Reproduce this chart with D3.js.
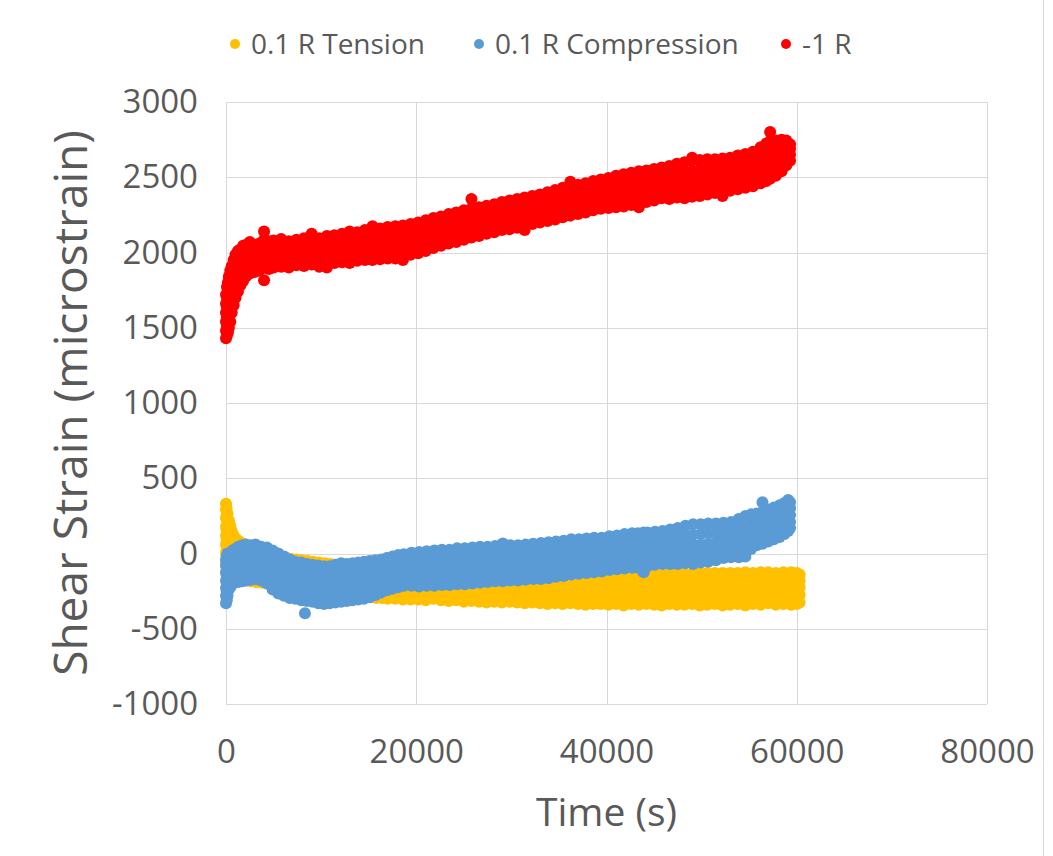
<!DOCTYPE html>
<html>
<head>
<meta charset="utf-8">
<script src="https://cdn.jsdelivr.net/npm/d3@7"></script>
<style>
  body { margin: 0; background: #fff; }
  svg { display: block; }
  text { font-family: "Open Sans", "Noto Sans", sans-serif; fill: #595959; }
</style>
</head>
<body>
<svg id="chart" width="1053" height="856"></svg>
<script>
// Series labels and colours
const seriesNames = ["0.1 R Tension", "0.1 R Compression", "-1 R"];
const seriesColors = ["#FFC000", "#5B9BD5", "#FF0000"];

// Axis ticks
const xTicks = [0, 20000, 40000, 60000, 80000];
const yTicks = [-1000, -500, 0, 500, 1000, 1500, 2000, 2500, 3000];

// Readings: each row is [time (s), shear strain readings at that time (microstrain)...]
const tensionRows = [
  [0, -120, -60, 0, 60, 120, 180, 240, 290, 330],
  [60, -120, -50, 20, 90, 160, 230, 300],
  [150, -120, -55, 10, 75, 140, 200, 265],
  [300, -130, -70, -10, 50, 110, 170, 220],
  [450, -140, -80, -20, 40, 100, 150, 185],
  [600, -150, -90, -30, 30, 90, 150],
  [800, -155, -95, -35, 25, 80, 120],
  [1000, -160, -100, -40, 15, 65, 100],
  [1300, -165, -110, -50, 10, 55, 85],
  [1700, -170, -115, -60, 0, 40, 70],
  [2100, -180, -120, -65, -10, 30, 55],
  [2600, -185, -130, -75, -20, 20, 45],
  [3200, -190, -135, -80, -30, 10, 30],
  [3800, -195, -140, -85, -35, 0, 20],
  [4400, -200, -145, -90, -40, -5, 10],
  [5000, -210, -155, -100, -50, -5],
  [5600, -215, -160, -105, -55, -15],
  [6200, -220, -165, -110, -60, -25],
  [6800, -225, -170, -115, -65, -35],
  [7400, -230, -175, -120, -75, -40],
  [8000, -235, -180, -125, -80, -45],
  [8600, -240, -185, -130, -85, -50],
  [9200, -245, -190, -135, -90, -55],
  [9800, -250, -195, -140, -95, -60],
  [10400, -255, -200, -145, -100, -65],
  [11000, -260, -205, -150, -105, -70],
  [11600, -265, -210, -155, -110, -75],
  [12200, -270, -215, -160, -110, -70],
  [12800, -275, -220, -165, -115, -75],
  [13400, -280, -225, -170, -115, -70],
  [14000, -280, -225, -170, -120, -75],
  [14600, -285, -230, -175, -125, -85],
  [15200, -290, -235, -180, -130, -90],
  [15800, -295, -240, -185, -135, -95],
  [16400, -295, -240, -190, -140, -100],
  [17000, -300, -245, -195, -145, -105],
  [17800, -300, -250, -200, -150, -110],
  [18600, -305, -255, -205, -155, -115],
  [19400, -305, -255, -205, -160, -120],
  [20200, -305, -255, -210, -165, -125],
  [21000, -310, -260, -210, -165, -125],
  [21800, -300, -255, -210, -165, -125],
  [22600, -310, -260, -215, -170, -130],
  [23400, -315, -265, -215, -170, -130],
  [24200, -310, -260, -215, -170, -130],
  [25000, -320, -270, -220, -175, -135],
  [25800, -315, -265, -220, -175, -135],
  [26600, -320, -270, -225, -180, -135],
  [27400, -325, -275, -225, -180, -140],
  [28200, -320, -270, -225, -180, -140],
  [29000, -325, -275, -230, -185, -140],
  [29800, -320, -275, -230, -185, -140],
  [30600, -325, -280, -230, -185, -140],
  [31400, -330, -280, -235, -190, -145],
  [32200, -325, -280, -235, -190, -145],
  [33000, -330, -285, -235, -190, -145],
  [33800, -335, -285, -240, -190, -145],
  [34600, -330, -285, -240, -190, -145],
  [35400, -335, -285, -240, -195, -150],
  [36200, -330, -285, -240, -195, -150],
  [37000, -335, -290, -240, -195, -150],
  [37800, -340, -290, -245, -195, -150],
  [38600, -335, -290, -245, -195, -150],
  [39400, -335, -290, -240, -195, -150],
  [40200, -340, -290, -245, -195, -150],
  [41000, -335, -290, -245, -195, -150],
  [41800, -345, -295, -245, -195, -145],
  [42600, -335, -290, -240, -190, -145],
  [43400, -340, -290, -245, -195, -145],
  [44200, -335, -290, -240, -190, -140],
  [45000, -340, -290, -240, -190, -140],
  [45800, -345, -295, -245, -190, -140],
  [46600, -335, -285, -240, -185, -135],
  [47400, -340, -290, -240, -185, -135],
  [48200, -340, -290, -235, -185, -135],
  [49000, -335, -285, -235, -185, -135],
  [49800, -345, -290, -240, -185, -130],
  [50600, -340, -290, -240, -185, -130],
  [51400, -335, -285, -235, -180, -130],
  [52200, -345, -290, -235, -180, -130],
  [53000, -340, -285, -235, -180, -130],
  [53800, -335, -285, -235, -180, -130],
  [54600, -345, -290, -235, -180, -125],
  [55400, -335, -285, -230, -180, -130],
  [56200, -340, -290, -235, -180, -125],
  [57000, -330, -280, -230, -175, -125],
  [57800, -340, -285, -230, -180, -130],
  [58600, -335, -285, -230, -175, -125],
  [59400, -340, -285, -230, -180, -125],
  [60000, -335, -285, -235, -180, -130],
  [60300, -325, -275, -225, -180, -140]
];

const compressionRows = [
  [0, -330, -280, -230, -180, -130, -80, -40],
  [80, -310, -250, -190, -130, -70, -20],
  [160, -280, -220, -160, -100, -40, 0],
  [300, -240, -180, -120, -60, -10],
  [500, -220, -160, -100, -40, 5],
  [700, -200, -140, -80, -20, 20],
  [950, -190, -130, -70, -10, 30],
  [1300, -190, -130, -70, -10, 45],
  [1700, -185, -125, -65, 0, 55],
  [2100, -180, -120, -60, 0, 60],
  [2600, -175, -115, -55, 5, 55],
  [3100, -170, -110, -50, 10, 60],
  [3700, -180, -120, -60, 0, 45],
  [4300, -200, -135, -70, -10, 40],
  [4900, -240, -170, -100, -35, 20],
  [5500, -265, -195, -130, -65, 0],
  [6100, -280, -210, -145, -80, -20],
  [6700, -295, -225, -160, -100, -40],
  [7300, -300, -235, -170, -110, -55],
  [7900, -310, -245, -180, -120, -60],
  [8300, -397],
  [8500, -315, -250, -185, -125, -70],
  [9100, -320, -255, -190, -130, -75],
  [9700, -330, -265, -200, -140, -80],
  [10300, -335, -270, -205, -145, -85],
  [10900, -330, -265, -200, -140, -85],
  [11500, -325, -260, -195, -135, -75],
  [12100, -320, -255, -190, -130, -65],
  [12700, -315, -250, -185, -125, -70],
  [13300, -310, -245, -180, -120, -65],
  [13900, -305, -240, -175, -115, -60],
  [14500, -300, -235, -170, -110, -55],
  [15100, -290, -225, -165, -105, -50],
  [15700, -275, -215, -155, -100, -45],
  [16300, -260, -205, -150, -95, -40],
  [16900, -245, -190, -135, -80, -30],
  [17500, -235, -180, -125, -70, -20],
  [18100, -225, -170, -115, -60, -10],
  [18700, -215, -160, -105, -50, -5],
  [19500, -215, -160, -100, -45, 5],
  [20300, -220, -160, -100, -40, 10],
  [21100, -215, -155, -95, -35, 15],
  [21900, -215, -155, -95, -35, 20],
  [22700, -210, -150, -90, -30, 25],
  [23500, -210, -150, -90, -30, 25],
  [24300, -205, -145, -85, -25, 35],
  [25100, -205, -145, -85, -25, 35],
  [25900, -200, -140, -80, -20, 40],
  [26700, -195, -135, -75, -15, 45],
  [27500, -190, -130, -70, -10, 45],
  [28300, -185, -125, -65, -5, 50],
  [29100, -185, -125, -65, -5, 50, 66],
  [29900, -180, -120, -60, 0, 55],
  [30700, -180, -120, -60, 0, 55],
  [31500, -175, -115, -55, 5, 60],
  [32300, -170, -110, -50, 10, 65],
  [33100, -170, -110, -50, 10, 70],
  [33900, -165, -105, -45, 15, 75],
  [34700, -155, -95, -35, 25, 80],
  [35500, -150, -90, -30, 30, 85],
  [36300, -140, -80, -20, 35, 95],
  [37100, -135, -75, -15, 40, 95],
  [37900, -130, -70, -10, 45, 100],
  [38700, -125, -65, -5, 50, 105],
  [39500, -120, -60, 0, 55, 105],
  [40300, -110, -50, 5, 60, 115],
  [41100, -105, -45, 10, 65, 120],
  [41900, -100, -40, 15, 75, 130],
  [42700, -95, -35, 20, 80, 135],
  [43300, -95, -35, 20, 80, 135],
  [43900, -125, -85, -30, 25, 85, 140],
  [44300, -85, -25, 30, 90, 140],
  [45100, -75, -20, 35, 95, 145],
  [45900, -70, -15, 40, 95, 150],
  [46700, -70, -10, 45, 100, 160],
  [47500, -70, -10, 50, 110, 170],
  [48300, -65, -5, 55, 120, 185],
  [49100, -70, -5, 60, 125, 195],
  [49900, -60, 0, 60, 130, 195],
  [50700, -55, 5, 65, 135, 200],
  [51500, -45, 15, 75, 140, 200],
  [52300, -30, 25, 85, 150, 205],
  [53100, -25, 30, 90, 150, 210],
  [53900, -25, 35, 95, 160, 230],
  [54600, -20, 40, 100, 175, 250],
  [55200, 30, 80, 130, 195, 260],
  [55800, 55, 100, 150, 210, 265],
  [56400, 65, 110, 160, 220, 275, 340],
  [57000, 80, 125, 175, 230, 290],
  [57600, 95, 140, 190, 245, 305],
  [58200, 110, 155, 205, 260, 320],
  [58700, 130, 175, 225, 275, 335],
  [59100, 150, 195, 240, 290, 355],
  [59300, 170, 210, 255, 300, 340]
];

const reversedRows = [
  [0, 1430, 1480, 1540, 1600, 1660, 1720],
  [100, 1450, 1510, 1570, 1640, 1700, 1770],
  [200, 1470, 1530, 1600, 1670, 1740, 1800],
  [300, 1500, 1570, 1640, 1710, 1780, 1840],
  [450, 1540, 1610, 1680, 1750, 1820, 1880],
  [600, 1600, 1660, 1730, 1800, 1860, 1910],
  [800, 1650, 1710, 1780, 1850, 1910, 1950],
  [1000, 1700, 1760, 1820, 1880, 1940, 1985],
  [1250, 1740, 1800, 1860, 1920, 1970, 2010],
  [1500, 1780, 1830, 1890, 1950, 2000, 2020],
  [1800, 1810, 1860, 1910, 1960, 2010, 2045],
  [2100, 1840, 1890, 1940, 1990, 2030, 2050],
  [2500, 1860, 1900, 1950, 2000, 2040, 2070],
  [3000, 1870, 1910, 1960, 2010, 2050],
  [3500, 1880, 1920, 1970, 2020, 2060],
  [4000, 1815, 1900, 1950, 2000, 2050, 2085, 2140],
  [4500, 1890, 1935, 1985, 2035, 2075],
  [5000, 1900, 1945, 1990, 2040, 2080],
  [5800, 1905, 1950, 2000, 2045, 2090],
  [6600, 1900, 1950, 2000, 2050, 2075],
  [7400, 1915, 1960, 2005, 2050, 2085],
  [8200, 1910, 1955, 2000, 2050, 2095],
  [9000, 1920, 1965, 2010, 2055, 2100, 2125],
  [9800, 1905, 1960, 2015, 2060, 2095],
  [10600, 1900, 1925, 1970, 2020, 2065, 2110],
  [11400, 1930, 1975, 2025, 2070, 2115],
  [12200, 1935, 1985, 2030, 2080, 2125],
  [13000, 1930, 1985, 2035, 2085, 2140],
  [13800, 1945, 1990, 2040, 2090, 2135],
  [14600, 1950, 1995, 2045, 2095, 2150],
  [15400, 1950, 2000, 2050, 2100, 2155, 2175],
  [16200, 1955, 2005, 2055, 2105, 2160],
  [17000, 1960, 2010, 2060, 2110, 2170],
  [17800, 1960, 2015, 2065, 2115, 2175],
  [18600, 1950, 2020, 2070, 2120, 2180],
  [19400, 1985, 2030, 2080, 2130, 2190],
  [20200, 1995, 2040, 2090, 2140, 2200],
  [21000, 2010, 2055, 2105, 2150, 2215],
  [21800, 2030, 2075, 2120, 2170, 2230],
  [22600, 2045, 2090, 2135, 2185, 2240],
  [23400, 2060, 2105, 2150, 2200, 2255],
  [24200, 2070, 2115, 2160, 2210, 2265],
  [25000, 2085, 2130, 2175, 2225, 2280],
  [25800, 2100, 2145, 2190, 2240, 2290, 2355],
  [26600, 2110, 2155, 2200, 2250, 2300],
  [27400, 2125, 2170, 2215, 2260, 2310],
  [28200, 2135, 2180, 2225, 2270, 2320],
  [29000, 2150, 2195, 2240, 2285, 2335],
  [29800, 2155, 2200, 2245, 2295, 2345],
  [30600, 2165, 2210, 2255, 2305, 2355],
  [31400, 2150, 2175, 2220, 2270, 2315, 2365],
  [32200, 2190, 2235, 2280, 2330, 2375],
  [33000, 2200, 2245, 2290, 2340, 2385],
  [33800, 2210, 2255, 2300, 2350, 2400],
  [34600, 2220, 2265, 2315, 2360, 2415],
  [35400, 2235, 2280, 2325, 2375, 2430],
  [36200, 2245, 2290, 2335, 2385, 2445, 2470],
  [37000, 2255, 2300, 2350, 2395, 2450],
  [37800, 2265, 2310, 2360, 2410, 2460],
  [38600, 2280, 2320, 2370, 2420, 2475],
  [39400, 2290, 2330, 2380, 2430, 2485],
  [40200, 2295, 2340, 2390, 2440, 2495],
  [41000, 2300, 2350, 2400, 2450, 2510],
  [41800, 2305, 2360, 2410, 2460, 2520],
  [42600, 2315, 2365, 2415, 2470, 2530],
  [43400, 2300, 2325, 2375, 2425, 2480, 2540],
  [44200, 2335, 2385, 2435, 2490, 2545],
  [45000, 2345, 2395, 2445, 2500, 2555],
  [45800, 2360, 2405, 2455, 2510, 2565],
  [46600, 2355, 2410, 2460, 2515, 2575],
  [47400, 2365, 2415, 2470, 2525, 2590],
  [48200, 2360, 2420, 2475, 2535, 2600],
  [49000, 2370, 2425, 2480, 2540, 2610, 2630],
  [49800, 2375, 2430, 2490, 2550, 2615],
  [50600, 2385, 2440, 2495, 2555, 2620],
  [51400, 2395, 2450, 2505, 2560, 2620],
  [52200, 2375, 2400, 2455, 2510, 2570, 2625],
  [53000, 2410, 2465, 2520, 2575, 2630],
  [53800, 2420, 2470, 2525, 2585, 2645],
  [54600, 2430, 2480, 2535, 2595, 2655],
  [55400, 2440, 2495, 2550, 2610, 2670],
  [56200, 2460, 2510, 2565, 2630, 2700],
  [56800, 2475, 2530, 2590, 2650, 2725],
  [57200, 2490, 2550, 2610, 2670, 2740, 2800],
  [57800, 2510, 2570, 2630, 2690, 2745],
  [58400, 2540, 2590, 2645, 2700, 2750],
  [58900, 2580, 2625, 2670, 2715, 2745],
  [59300, 2610, 2650, 2690, 2720]
];

const seriesRows = [tensionRows, compressionRows, reversedRows];

// Layout
const width = 1053, height = 856;
const plot = { left: 226, right: 987, top: 102, bottom: 704 };
const markerRadius = 6;

const svg = d3.select("#chart");

const x = d3.scaleLinear().domain([0, 80000]).range([plot.left, plot.right]);
const y = d3.scaleLinear().domain([-1000, 3000]).range([plot.bottom, plot.top]);

// Chart frame
svg.append("rect")
  .attr("x", -1).attr("y", -1)
  .attr("width", 1044.5).attr("height", height + 2)
  .attr("fill", "none").attr("stroke", "#d9d9d9").attr("stroke-width", 1);

// Gridlines
const gridX = svg.append("g")
  .attr("transform", `translate(0,${plot.bottom})`)
  .call(d3.axisBottom(x).tickValues(xTicks).tickSize(-(plot.bottom - plot.top)).tickFormat(""));
const gridY = svg.append("g")
  .attr("transform", `translate(${plot.left},0)`)
  .call(d3.axisLeft(y).tickValues(yTicks).tickSize(-(plot.right - plot.left)).tickFormat(""));
[gridX, gridY].forEach(g => {
  g.select(".domain").remove();
  g.selectAll("line").attr("stroke", "#d9d9d9").attr("stroke-width", 1)
    .attr("shape-rendering", "crispEdges");
});

// Tick labels (plain hyphen for negatives)
const plainNumber = d => String(d);
const xAxis = svg.append("g")
  .attr("transform", `translate(0,${plot.bottom})`)
  .call(d3.axisBottom(x).tickValues(xTicks).tickSize(0).tickPadding(36).tickFormat(plainNumber));
const yAxis = svg.append("g")
  .attr("transform", `translate(${plot.left},0)`)
  .call(d3.axisLeft(y).tickValues(yTicks).tickSize(0).tickPadding(28).tickFormat(plainNumber));
[xAxis, yAxis].forEach(g => {
  g.select(".domain").remove();
  g.selectAll("text")
    .attr("font-family", "\"Open Sans\", sans-serif")
    .attr("font-size", 33)
    .attr("fill", "#595959");
});

// Scatter points
const pointLayer = svg.append("g");
seriesRows.forEach((rows, i) => {
  const pts = rows.flatMap(([t, ...vals]) => vals.map(v => ({ t, v })));
  pointLayer.append("g")
    .selectAll("circle")
    .data(pts)
    .join("circle")
    .attr("cx", d => x(d.t))
    .attr("cy", d => y(d.v))
    .attr("r", markerRadius)
    .attr("fill", seriesColors[i]);
});

// Axis titles
svg.append("text")
  .attr("x", (plot.left + plot.right) / 2)
  .attr("y", 826)
  .attr("text-anchor", "middle")
  .attr("font-size", 39)
  .text("Time (s)");

svg.append("text")
  .attr("transform", `translate(87,${(plot.top + plot.bottom) / 2}) rotate(-90)`)
  .attr("text-anchor", "middle")
  .attr("font-size", 46)
  .text("Shear Strain (microstrain)");

// Legend
const legendX = [235, 479, 786];
const legend = svg.append("g");
seriesNames.forEach((name, i) => {
  const item = legend.append("g").attr("transform", `translate(${legendX[i]},44)`);
  item.append("circle").attr("r", 5).attr("fill", seriesColors[i]);
  item.append("text")
    .attr("x", 16)
    .attr("dy", "0.36em")
    .attr("font-size", 28)
    .text(name);
});
</script>
</body>
</html>
